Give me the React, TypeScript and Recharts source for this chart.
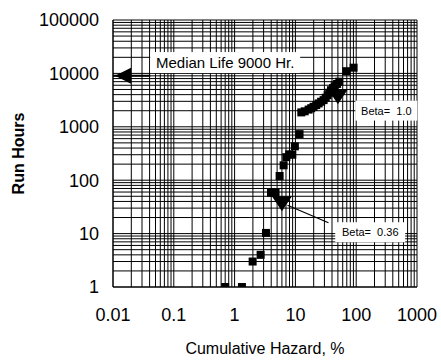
import {
  ScatterChart,
  Scatter,
  XAxis,
  YAxis,
  ReferenceDot,
  ReferenceLine,
  Label,
} from "recharts";

// cumulative hazard (%) and run hours
const hazardPct = [
  0.7, 1.32, 1.98, 2.68, 3.28, 3.97, 4.72, 5.5, 6.4, 7.1, 7.9, 8.9, 9.8, 11.7,
  12.5, 14.2, 16.5, 18.2, 19.9, 22, 24.1, 26.5, 29.1, 31.5, 33.9, 36, 38.5, 41.5,
  44.2, 48.5, 52.7, 68.7, 90.6,
];
const runHours = [
  1, 1, 3.0, 4.0, 10.3, 58, 58, 120, 190, 270, 305, 300, 430, 730, 1860, 1950,
  2100, 2230, 2370, 2550, 2740, 2950, 3160, 3500, 3900, 4350, 4850, 5300, 5750,
  6350, 7000, 11000, 12800,
];

const xTicks = [0.01, 0.1, 1, 10, 100, 1000];
const yTicks = [1, 10, 100, 1000, 10000, 100000];

const points = hazardPct.map((x, i) => ({ x, y: runHours[i] }));

// log paper: lines at 1..9 of every decade
const logGrid = (ticks: number[]) =>
  ticks.flatMap((t, i) =>
    i === ticks.length - 1 ? [t] : [1, 2, 3, 4, 5, 6, 7, 8, 9].map((m) => m * t)
  );

const DownTriangle = (props: any) => {
  const { cx, cy } = props;
  return (
    <path
      d={`M${cx - 10},${cy - 7} L${cx + 10},${cy - 7} L${cx},${cy + 8} Z`}
      fill="#000"
    />
  );
};

const LeftArrow = (props: any) => {
  const { cx, cy } = props;
  return (
    <path
      d={`M${cx + 2},${cy} L${cx + 18},${cy - 8} L${cx + 18},${cy + 8} Z`}
      fill="#000"
    />
  );
};

// white note box with text, centred on the dot
const noteBox = (text: string, w: number, h: number, fontSize: number) => (props: any) => {
  const { cx, cy } = props;
  return (
    <g>
      <rect x={cx - w / 2} y={cy - h / 2} width={w} height={h} fill="#fff" />
      <text
        x={cx}
        y={cy}
        textAnchor="middle"
        dominantBaseline="central"
        fontSize={fontSize}
        fill="#000"
      >
        {text}
      </text>
    </g>
  );
};

const YTitle = (props: any) => {
  const { viewBox } = props;
  const x = viewBox.x + 18;
  const y = viewBox.y + viewBox.height / 2;
  return (
    <text
      x={x}
      y={y}
      transform={`rotate(-90, ${x}, ${y})`}
      textAnchor="middle"
      dominantBaseline="central"
      fontSize={16}
      fontWeight="bold"
      fill="#000"
    >
      Run Hours
    </text>
  );
};

export default function App() {
  return (
    <div
      style={{
        position: "absolute",
        left: 0,
        top: 0,
        width: 441,
        height: 362,
        background: "#fff",
        fontFamily: "'Liberation Sans', Arial, sans-serif",
      }}
    >
      <ScatterChart
        width={441}
        height={362}
        margin={{ top: 20, right: 24, bottom: 0, left: 0 }}
      >
        <XAxis
          dataKey="x"
          type="number"
          scale="log"
          domain={[0.01, 1000]}
          ticks={xTicks}
          allowDataOverflow
          height={75}
          tickSize={0}
          tickMargin={21}
          axisLine={{ stroke: "#000" }}
          tick={{ fill: "#000", fontSize: 18 }}
        >
          <Label
            value="Cumulative Hazard, %"
            position="insideBottom"
            offset={8}
            fill="#000"
            fontSize={16}
          />
        </XAxis>
        <YAxis
          dataKey="y"
          type="number"
          scale="log"
          domain={[1, 100000]}
          ticks={yTicks}
          allowDataOverflow
          width={113}
          tickSize={0}
          tickMargin={14}
          axisLine={{ stroke: "#000" }}
          tick={{ fill: "#000", fontSize: 18 }}
        >
          <Label content={<YTitle />} />
        </YAxis>

        {logGrid(xTicks).map((v) => (
          <ReferenceLine key={`vx${v}`} x={v} stroke="#000" strokeWidth={1} />
        ))}
        {logGrid(yTicks).map((v) => (
          <ReferenceLine key={`hy${v}`} y={v} stroke="#000" strokeWidth={1} />
        ))}

        <ReferenceLine
          segment={[
            { x: 0.01, y: 9000 },
            { x: 0.041, y: 9000 },
          ]}
          stroke="#000"
          strokeWidth={2}
        />
        <ReferenceLine
          segment={[
            { x: 7.4, y: 34 },
            { x: 35, y: 16 },
          ]}
          stroke="#000"
          strokeWidth={1.2}
        />

        <Scatter
          data={points}
          fill="#000"
          shape="square"
          isAnimationActive={false}
        />

        <ReferenceDot
          x={0.7}
          y={15960}
          shape={noteBox("Median Life 9000 Hr.", 150, 21, 15)}
        />
        <ReferenceDot
          x={170}
          y={10.6}
          shape={noteBox("Beta=\u00a0\u00a00.36", 70, 20, 11)}
        />
        <ReferenceDot
          x={313}
          y={2010}
          shape={noteBox("Beta=\u00a0\u00a01.0", 62, 20, 11)}
        />

        <ReferenceDot x={0.01} y={9000} shape={<LeftArrow />} />
        <ReferenceDot x={6} y={37} shape={<DownTriangle />} />
        <ReferenceDot x={50} y={3750} shape={<DownTriangle />} />
      </ScatterChart>
    </div>
  );
}
